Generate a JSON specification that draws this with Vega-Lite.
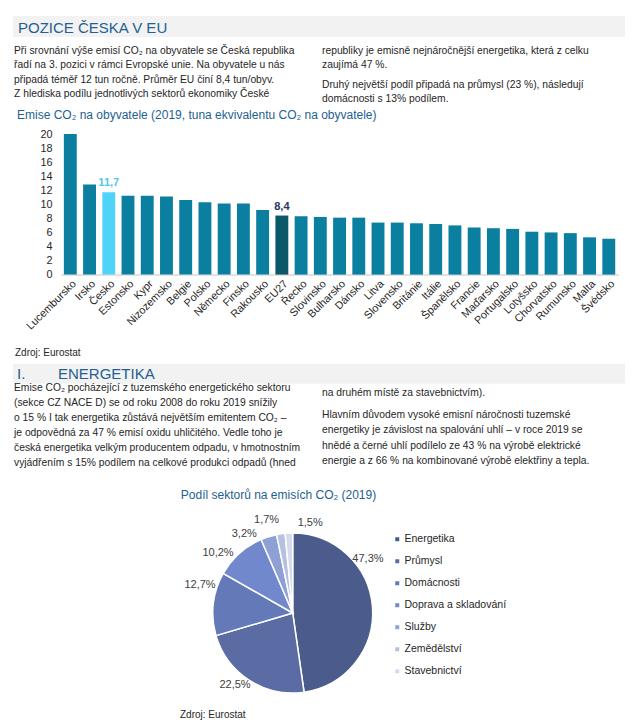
{
  "$schema": "https://vega.github.io/schema/vega-lite/v6.json",
  "padding": 0,
  "background": "white",
  "spacing": 0,
  "bounds": "flush",
  "config": {"view": {"stroke": null}, "font": "Liberation Sans"},
  "resolve": {"scale": {"color": "independent", "fill": "independent"}, "legend": {"color": "independent"}},
  "vconcat": [
    {
      "width": 640,
      "height": 133.7,
      "resolve": {"scale": {"x": "independent", "y": "independent"}},
      "layer": [
        {
          "data": {"values": [{"band": "POZICE ČESKA V EU"}]},
          "mark": {"type": "rect", "color": "#F2F2F2"},
          "encoding": {
            "x": {"datum": 0, "type": "quantitative", "scale": {"domain": [0, 1], "range": [13, 625]}, "axis": null},
            "x2": {"datum": 1},
            "y": {"datum": 0, "type": "quantitative", "scale": {"domain": [0, 1], "range": [16, 37]}, "axis": null},
            "y2": {"datum": 1}
          }
        },
        {
          "data": {"values": [{"c": "L", "n": 0, "t": "POZICE ČESKA V EU"}]},
          "mark": {"type": "text", "align": "left", "baseline": "alphabetic", "fontSize": 15, "color": "#245F91"},
          "encoding": {
            "x": {"field": "c", "type": "nominal", "scale": {"type": "point", "domain": ["L"], "range": [18, 18], "padding": 0}, "axis": null},
            "y": {"field": "n", "type": "quantitative", "scale": {"domain": [0, 1], "range": [33.3, 48]}, "axis": null},
            "text": {"field": "t"}
          }
        },
        {
          "data": {"values": [
            {"c": "L", "n": 0, "t": "Při srovnání výše emisí CO₂ na obyvatele se Česká republika"},
            {"c": "L", "n": 1, "t": "řadí na 3. pozici v rámci Evropské unie. Na obyvatele u nás"},
            {"c": "L", "n": 2, "t": "připadá téměř 12 tun ročně. Průměr EU činí 8,4 tun/obyv."},
            {"c": "L", "n": 3, "t": "Z hlediska podílu jednotlivých sektorů ekonomiky České"}
          ]},
          "mark": {"type": "text", "align": "left", "baseline": "alphabetic", "fontSize": 10.3, "color": "#262626"},
          "encoding": {
            "x": {"field": "c", "type": "nominal", "scale": {"type": "point", "domain": ["L"], "range": [14, 14], "padding": 0}, "axis": null},
            "y": {"field": "n", "type": "quantitative", "scale": {"domain": [0, 3], "range": [54, 96.9]}, "axis": null},
            "text": {"field": "t"}
          }
        },
        {
          "data": {"values": [
            {"c": "R", "n": 0, "t": "republiky je emisně nejnáročnější energetika, která z celku"},
            {"c": "R", "n": 1, "t": "zaujímá 47 %."}
          ]},
          "mark": {"type": "text", "align": "left", "baseline": "alphabetic", "fontSize": 10.3, "color": "#262626"},
          "encoding": {
            "x": {"field": "c", "type": "nominal", "scale": {"type": "point", "domain": ["R"], "range": [322, 322], "padding": 0}, "axis": null},
            "y": {"field": "n", "type": "quantitative", "scale": {"domain": [0, 1], "range": [54, 68.3]}, "axis": null},
            "text": {"field": "t"}
          }
        },
        {
          "data": {"values": [
            {"c": "R", "n": 0, "t": "Druhý největší podíl připadá na průmysl (23 %), následují"},
            {"c": "R", "n": 1, "t": "domácnosti s 13% podílem."}
          ]},
          "mark": {"type": "text", "align": "left", "baseline": "alphabetic", "fontSize": 10.3, "color": "#262626"},
          "encoding": {
            "x": {"field": "c", "type": "nominal", "scale": {"type": "point", "domain": ["R"], "range": [322, 322], "padding": 0}, "axis": null},
            "y": {"field": "n", "type": "quantitative", "scale": {"domain": [0, 1], "range": [87.5, 101.8]}, "axis": null},
            "text": {"field": "t"}
          }
        },
        {
          "data": {"values": [{"c": "L", "n": 0, "t": "Emise CO₂ na obyvatele (2019, tuna ekvivalentu CO₂ na obyvatele)"}]},
          "mark": {"type": "text", "align": "left", "baseline": "alphabetic", "fontSize": 12, "color": "#245F91"},
          "encoding": {
            "x": {"field": "c", "type": "nominal", "scale": {"type": "point", "domain": ["L"], "range": [17, 17], "padding": 0}, "axis": null},
            "y": {"field": "n", "type": "quantitative", "scale": {"domain": [0, 1], "range": [119, 134]}, "axis": null},
            "text": {"field": "t"}
          }
        }
      ]
    },
    {
      "width": 640,
      "height": 140.6,
      "data": {"values": [
        {"country": "Lucembursko", "value": 20.0, "group": "other"},
        {"country": "Irsko", "value": 12.8, "group": "other"},
        {"country": "Česko", "value": 11.7, "group": "CZ", "label": "11,7"},
        {"country": "Estonsko", "value": 11.2, "group": "other"},
        {"country": "Kypr", "value": 11.2, "group": "other"},
        {"country": "Nizozemsko", "value": 11.1, "group": "other"},
        {"country": "Belgie", "value": 10.6, "group": "other"},
        {"country": "Polsko", "value": 10.3, "group": "other"},
        {"country": "Německo", "value": 10.1, "group": "other"},
        {"country": "Finsko", "value": 10.1, "group": "other"},
        {"country": "Rakousko", "value": 9.2, "group": "other"},
        {"country": "EU27", "value": 8.4, "group": "EU", "label": "8,4"},
        {"country": "Řecko", "value": 8.3, "group": "other"},
        {"country": "Slovinsko", "value": 8.2, "group": "other"},
        {"country": "Bulharsko", "value": 8.1, "group": "other"},
        {"country": "Dánsko", "value": 8.1, "group": "other"},
        {"country": "Litva", "value": 7.4, "group": "other"},
        {"country": "Slovensko", "value": 7.4, "group": "other"},
        {"country": "Británie", "value": 7.3, "group": "other"},
        {"country": "Itálie", "value": 7.2, "group": "other"},
        {"country": "Španělsko", "value": 7.0, "group": "other"},
        {"country": "Francie", "value": 6.7, "group": "other"},
        {"country": "Maďarsko", "value": 6.6, "group": "other"},
        {"country": "Portugalsko", "value": 6.5, "group": "other"},
        {"country": "Lotyšsko", "value": 6.1, "group": "other"},
        {"country": "Chorvatsko", "value": 6.0, "group": "other"},
        {"country": "Rumunsko", "value": 5.9, "group": "other"},
        {"country": "Malta", "value": 5.3, "group": "other"},
        {"country": "Švédsko", "value": 5.1, "group": "other"}
      ]},
      "encoding": {
        "x": {
          "field": "country", "type": "nominal", "sort": null,
          "scale": {"range": [60.7, 618.4], "paddingInner": 0.33, "paddingOuter": 0.165},
          "axis": {"title": null, "labelAngle": -45, "ticks": false, "domainColor": "#D9D9D9", "domainWidth": 1.5, "labelFontSize": 10.8, "labelColor": "#262626", "labelPadding": 3}
        },
        "y": {
          "field": "value", "type": "quantitative",
          "scale": {"domain": [0, 20], "nice": false},
          "axis": {"title": null, "values": [0, 2, 4, 6, 8, 10, 12, 14, 16, 18, 20], "grid": false, "domain": false, "ticks": false, "labelPadding": 4, "offset": -56, "labelFontSize": 10.8, "labelColor": "#262626"}
        }
      },
      "layer": [
        {
          "mark": {"type": "bar"},
          "encoding": {
            "color": {"field": "group", "type": "nominal", "scale": {"domain": ["other", "CZ", "EU"], "range": ["#0B7FA0", "#4FD3F8", "#0A5868"]}, "legend": null}
          }
        },
        {
          "transform": [{"filter": "datum.label != null"}],
          "mark": {"type": "text", "dy": -6, "baseline": "alphabetic", "fontWeight": "bold", "fontSize": 11},
          "encoding": {
            "text": {"field": "label"},
            "fill": {"field": "group", "type": "nominal", "scale": {"domain": ["CZ", "EU"], "range": ["#4FC8EE", "#1F3864"]}, "legend": null}
          }
        }
      ]
    },
    {
      "width": 640,
      "height": 257.4,
      "resolve": {"scale": {"x": "independent", "y": "independent"}},
      "layer": [
        {
          "data": {"values": [{"c": "L", "n": 0, "t": "Zdroj: Eurostat"}]},
          "mark": {"type": "text", "align": "left", "baseline": "alphabetic", "fontSize": 10, "color": "#262626"},
          "encoding": {
            "x": {"field": "c", "type": "nominal", "scale": {"type": "point", "domain": ["L"], "range": [15, 15], "padding": 0}, "axis": null},
            "y": {"field": "n", "type": "quantitative", "scale": {"domain": [0, 1], "range": [80.7, 95]}, "axis": null},
            "text": {"field": "t"}
          }
        },
        {
          "data": {"values": [{"band": "ENERGETIKA"}]},
          "mark": {"type": "rect", "color": "#F2F2F2"},
          "encoding": {
            "x": {"datum": 0, "type": "quantitative", "scale": {"domain": [0, 1], "range": [13, 625]}, "axis": null},
            "x2": {"datum": 1},
            "y": {"datum": 0, "type": "quantitative", "scale": {"domain": [0, 1], "range": [88.7, 108.7]}, "axis": null},
            "y2": {"datum": 1}
          }
        },
        {
          "data": {"values": [{"c": "L", "n": 0, "t": "I."}, {"c": "R", "n": 0, "t": "ENERGETIKA"}]},
          "mark": {"type": "text", "align": "left", "baseline": "alphabetic", "fontSize": 15, "color": "#245F91"},
          "encoding": {
            "x": {"field": "c", "type": "nominal", "scale": {"type": "point", "domain": ["L", "R"], "range": [17, 58], "padding": 0}, "axis": null},
            "y": {"field": "n", "type": "quantitative", "scale": {"domain": [0, 1], "range": [103.7, 118]}, "axis": null},
            "text": {"field": "t"}
          }
        },
        {
          "data": {"values": [
            {"c": "L", "n": 0, "t": "Emise CO₂ pocházející z tuzemského energetického sektoru"},
            {"c": "L", "n": 1, "t": "(sekce CZ NACE D) se od roku 2008 do roku 2019 snížily"},
            {"c": "L", "n": 2, "t": "o 15 % I tak energetika zůstává největším emitentem CO₂ –"},
            {"c": "L", "n": 3, "t": "je odpovědná za 47 % emisí oxidu uhličitého. Vedle toho je"},
            {"c": "L", "n": 4, "t": "česká energetika velkým producentem odpadu, v hmotnostním"},
            {"c": "L", "n": 5, "t": "vyjádřením s 15% podílem na celkové produkci odpadů (hned"}
          ]},
          "mark": {"type": "text", "align": "left", "baseline": "alphabetic", "fontSize": 10.3, "color": "#262626"},
          "encoding": {
            "x": {"field": "c", "type": "nominal", "scale": {"type": "point", "domain": ["L"], "range": [14, 14], "padding": 0}, "axis": null},
            "y": {"field": "n", "type": "quantitative", "scale": {"domain": [0, 5], "range": [116.2, 191.2]}, "axis": null},
            "text": {"field": "t"}
          }
        },
        {
          "data": {"values": [{"c": "R", "n": 0, "t": "na druhém místě za stavebnictvím)."}]},
          "mark": {"type": "text", "align": "left", "baseline": "alphabetic", "fontSize": 10.3, "color": "#262626"},
          "encoding": {
            "x": {"field": "c", "type": "nominal", "scale": {"type": "point", "domain": ["R"], "range": [322, 322], "padding": 0}, "axis": null},
            "y": {"field": "n", "type": "quantitative", "scale": {"domain": [0, 1], "range": [120.7, 135]}, "axis": null},
            "text": {"field": "t"}
          }
        },
        {
          "data": {"values": [
            {"c": "R", "n": 0, "t": "Hlavním důvodem vysoké emisní náročnosti tuzemské"},
            {"c": "R", "n": 1, "t": "energetiky je závislost na spalování uhlí – v roce 2019 se"},
            {"c": "R", "n": 2, "t": "hnědé a černé uhlí podílelo ze 43 % na výrobě elektrické"},
            {"c": "R", "n": 3, "t": "energie a z 66 % na kombinované výrobě elektřiny a tepla."}
          ]},
          "mark": {"type": "text", "align": "left", "baseline": "alphabetic", "fontSize": 10.3, "color": "#262626"},
          "encoding": {
            "x": {"field": "c", "type": "nominal", "scale": {"type": "point", "domain": ["R"], "range": [322, 322], "padding": 0}, "axis": null},
            "y": {"field": "n", "type": "quantitative", "scale": {"domain": [0, 3], "range": [143.2, 188.8]}, "axis": null},
            "text": {"field": "t"}
          }
        },
        {
          "data": {"values": [{"c": "C", "n": 0, "t": "Podíl sektorů na emisích CO₂ (2019)"}]},
          "mark": {"type": "text", "align": "center", "baseline": "alphabetic", "fontSize": 12, "color": "#245F91"},
          "encoding": {
            "x": {"field": "c", "type": "nominal", "scale": {"type": "point", "domain": ["C"], "range": [278.5, 278.5], "padding": 0}, "axis": null},
            "y": {"field": "n", "type": "quantitative", "scale": {"domain": [0, 1], "range": [223.7, 238]}, "axis": null},
            "text": {"field": "t"}
          }
        }
      ]
    },
    {
      "width": 585.4,
      "height": 160,
      "data": {"values": [
        {"idx": 1, "sector": "Energetika", "value": 47.3, "label": "47,3%"},
        {"idx": 2, "sector": "Průmysl", "value": 22.5, "label": "22,5%"},
        {"idx": 3, "sector": "Domácnosti", "value": 12.7, "label": "12,7%"},
        {"idx": 4, "sector": "Doprava a skladování", "value": 10.2, "label": "10,2%"},
        {"idx": 5, "sector": "Služby", "value": 3.2, "label": "3,2%"},
        {"idx": 6, "sector": "Zemědělství", "value": 1.7, "label": "1,7%"},
        {"idx": 7, "sector": "Stavebnictví", "value": 1.5, "label": "1,5%"}
      ]},
      "encoding": {
        "theta": {"field": "value", "type": "quantitative", "stack": true},
        "order": {"field": "idx", "type": "quantitative"}
      },
      "layer": [
        {
          "mark": {"type": "arc", "outerRadius": 80, "stroke": "white", "strokeWidth": 1.5},
          "encoding": {
            "color": {
              "field": "sector", "type": "nominal",
              "scale": {"domain": ["Energetika", "Průmysl", "Domácnosti", "Doprava a skladování", "Služby", "Zemědělství", "Stavebnictví"],
                        "range": ["#4A5B8C", "#5B6CA5", "#6479B8", "#7189CC", "#8FA0D4", "#B5C0E3", "#D4DBEF"]},
              "legend": {"title": null, "orient": "none", "legendX": 392, "legendY": 1, "symbolType": "square", "symbolSize": 16, "symbolStrokeWidth": 0, "labelFontSize": 10.5, "labelColor": "#262626", "rowPadding": 11, "labelOffset": 2, "padding": 0}
            }
          }
        },
        {
          "mark": {"type": "text", "radius": 95, "dx": -19.5, "dy": -47, "fontSize": 11, "fill": "#404040"},
          "encoding": {"text": {"condition": {"test": "datum.sector === 'Energetika'", "field": "label"}, "value": ""}}
        },
        {
          "mark": {"type": "text", "radius": 95, "dx": -6.4, "dy": -7.6, "fontSize": 11, "fill": "#404040"},
          "encoding": {"text": {"condition": {"test": "datum.sector === 'Průmysl'", "field": "label"}, "value": ""}}
        },
        {
          "mark": {"type": "text", "radius": 95, "dx": 1.7, "dy": -17, "fontSize": 11, "fill": "#404040"},
          "encoding": {"text": {"condition": {"test": "datum.sector === 'Domácnosti'", "field": "label"}, "value": ""}}
        },
        {
          "mark": {"type": "text", "radius": 95, "dx": -11.4, "dy": 11, "fontSize": 11, "fill": "#404040"},
          "encoding": {"text": {"condition": {"test": "datum.sector === 'Doprava a skladování'", "field": "label"}, "value": ""}}
        },
        {
          "mark": {"type": "text", "radius": 95, "dx": -20, "dy": 11.6, "fontSize": 11, "fill": "#404040"},
          "encoding": {"text": {"condition": {"test": "datum.sector === 'Služby'", "field": "label"}, "value": ""}}
        },
        {
          "mark": {"type": "text", "radius": 95, "dx": -12, "dy": 1.3, "fontSize": 11, "fill": "#404040"},
          "encoding": {"text": {"condition": {"test": "datum.sector === 'Zemědělství'", "field": "label"}, "value": ""}}
        },
        {
          "mark": {"type": "text", "radius": 95, "dx": 22, "dy": 5, "fontSize": 11, "fill": "#404040"},
          "encoding": {"text": {"condition": {"test": "datum.sector === 'Stavebnictví'", "field": "label"}, "value": ""}}
        }
      ]
    },
    {
      "width": 640,
      "height": 34.3,
      "data": {"values": [{"c": "L", "n": 0, "t": "Zdroj: Eurostat"}]},
      "mark": {"type": "text", "align": "left", "baseline": "alphabetic", "fontSize": 10, "color": "#262626"},
      "encoding": {
        "x": {"field": "c", "type": "nominal", "scale": {"type": "point", "domain": ["L"], "range": [180, 180], "padding": 0}, "axis": null},
        "y": {"field": "n", "type": "quantitative", "scale": {"domain": [0, 1], "range": [25.3, 40]}, "axis": null},
        "text": {"field": "t"}
      }
    }
  ]
}
